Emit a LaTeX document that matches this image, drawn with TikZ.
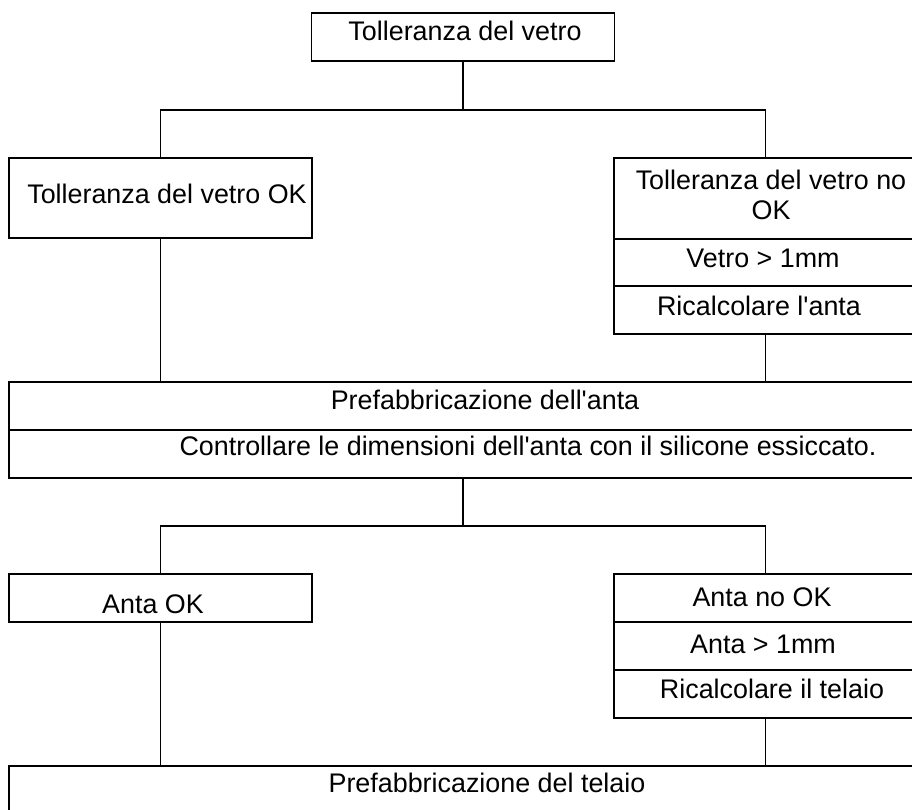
\documentclass[tikz,border=0pt]{standalone}
\usepackage{fontspec}
\setmainfont{Liberation Sans}[Ligatures=TeXOff]
\usetikzlibrary{positioning}

\begin{document}
\begin{tikzpicture}[x=0.02cm, y=-0.02cm,
    vak/.style={draw, line width=0.7pt, inner sep=0pt, outer sep=0pt,
      minimum width=6.06cm, minimum height=0.96cm},
    breed/.style={vak, minimum width=19.24cm},
    tekst/.style={anchor=base, font=\fontsize{15.3}{17}\selectfont},
    lijn/.style={line width=0.7pt}]
    \useasboundingbox (0,0) rectangle (912,810);
    \clip (0,0) rectangle (912,810);
    % Bovenste vak
    \node[vak] (tol) at (463,37) {};
    \node[tekst] (ttol) at (465,41) {Tolleranza del vetro};
    % Vetro OK, links
    \node[vak, minimum height=1.6cm] (vok) at (160.5,198) {};
    \node[tekst] (tvok) at (167,204) {Tolleranza del vetro OK};
    % Vetro no OK, rechts: drie vakken onder elkaar
    \node[vak, minimum height=1.62cm] (vno) at (765.5,198.5) {};
    \node[vak, minimum height=0.94cm, below=0pt of vno] (vmm) {};
    \node[vak, below=0pt of vmm] (vric) {};
    \node[tekst, anchor=center, align=center] (tvno) at (771,195) {Tolleranza del vetro no\\OK};
    \node[tekst] (tvmm) at (763,268) {Vetro > 1mm};
    \node[tekst] (tvric) at (759,316) {Ricalcolare l'anta};
    % Prefabbricazione anta, over de hele breedte
    \node[breed] (pa) at (490,406) {};
    \node[breed, below=0pt of pa] (pc) {};
    \node[tekst] (tpa) at (485,410) {Prefabbricazione dell'anta};
    \node[tekst] (tpc) at (528,455) {Controllare le dimensioni dell'anta con il silicone essiccato.};
    % Anta OK, links
    \node[vak] (aok) at (160.5,598) {};
    \node[tekst] (taok) at (153,613) {Anta OK};
    % Anta no OK, rechts
    \node[vak] (ano) at (765.5,598) {};
    \node[vak, below=0pt of ano] (amm) {};
    \node[vak, below=0pt of amm] (aric) {};
    \node[tekst] (tano) at (762,606) {Anta no OK};
    \node[tekst] (tamm) at (763,653) {Anta > 1mm};
    \node[tekst] (taric) at (772,698) {Ricalcolare il telaio};
    % Onderste vak
    \node[breed] (pt) at (490,790) {};
    \node[tekst] (tpt) at (487,792) {Prefabbricazione del telaio};
    % Verbindingen, eerste splitsing
    \coordinate (s1) at (463,110);
    \draw[lijn] (tol.south) -- (s1);
    \draw[lijn] (vok.north) |- (s1) -| (vno.north);
    \draw[lijn] (vok.south) -- (vok.south |- pa.north);
    \draw[lijn] (vric.south) -- (vric.south |- pa.north);
    % Tweede splitsing
    \coordinate (s2) at (463,526);
    \draw[lijn] (s2 |- pc.south) -- (s2);
    \draw[lijn] (aok.north) |- (s2) -| (ano.north);
    \draw[lijn] (aok.south) -- (aok.south |- pt.north);
    \draw[lijn] (aric.south) -- (aric.south |- pt.north);
\end{tikzpicture}
\end{document}
